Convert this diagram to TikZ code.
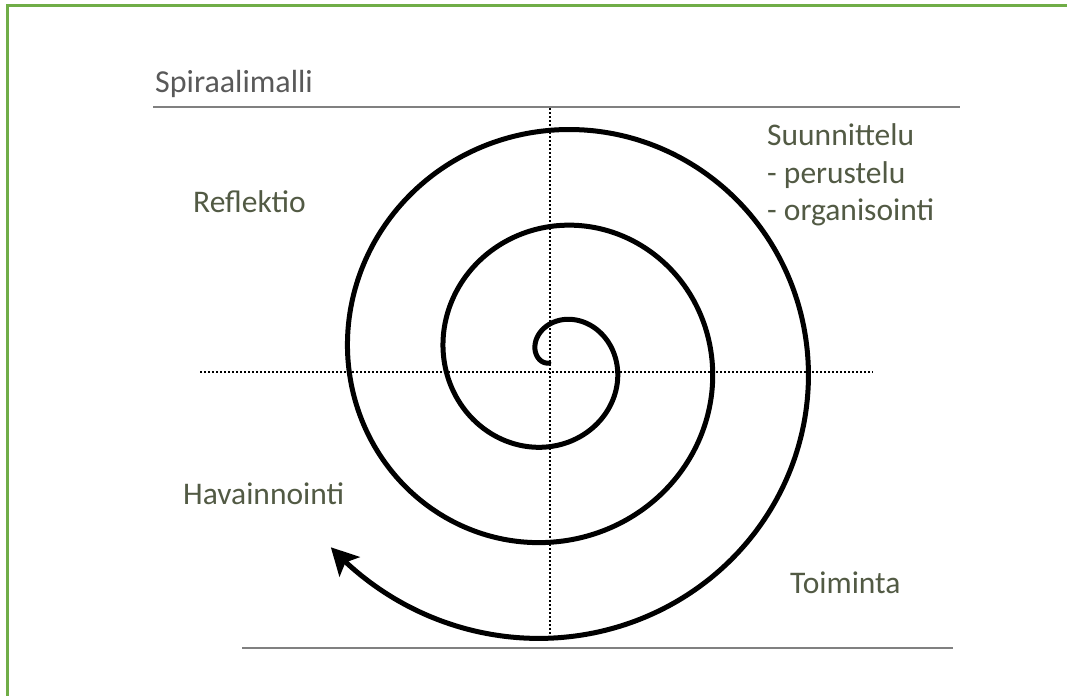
\documentclass[tikz,border=0pt]{standalone}
\usepackage{fontspec}
\setmainfont{Carlito}
\usetikzlibrary{arrows.meta}
\definecolor{framegreen}{RGB}{112,173,71}
\definecolor{labelcol}{RGB}{82,90,68}
\definecolor{titlecol}{RGB}{89,89,89}
\definecolor{rulecol}{RGB}{128,128,128}
\tikzset{
  lbl/.style={anchor=base west, inner sep=0pt, text=labelcol, font=\fontsize{31.5}{37.5}\selectfont},
  ttl/.style={anchor=base west, inner sep=0pt, text=titlecol, font=\fontsize{32}{38}\selectfont},
  rulerline/.style={draw=rulecol, line width=2pt},
  axisline/.style={draw=black, line width=1.6pt, dash pattern=on 1.6pt off 2.4pt},
  spiralline/.style={draw=black, line width=5pt, line cap=round},
  framel/.style={draw=framegreen, line width=3pt}
}
\begin{document}
\begin{tikzpicture}[x=1pt,y=-1pt]
\useasboundingbox (0,0) rectangle (1067,696);
\fill[white] (0,0) rectangle (1067,696);
% frame (top and left edges)
\coordinate (fTL) at (7.5,5.3);
\coordinate (fTR) at (1067,5.3);
\coordinate (fBL) at (7.5,696);
\draw[framel] (fTR) -- (fTL) -- (fBL);
% rules
\coordinate (r1a) at (153,107);
\coordinate (r1b) at (960,107);
\coordinate (r2a) at (242,648);
\coordinate (r2b) at (953,648);
\draw[rulerline] (r1a) -- (r1b);
\draw[rulerline] (r2a) -- (r2b);
% dotted axes
\coordinate (hA) at (200,372);
\coordinate (hB) at (873,372);
\coordinate (vA) at (550,108);
\coordinate (vB) at (550,637);
\draw[axisline] (hA) -- (hB);
\draw[axisline] (vA) -- (vB);
% spiral
\draw[spiralline, -{Stealth[length=27pt,width=28pt,inset=6pt]}]
  plot[domain=-120:950, samples=400, smooth, variable=\t]
  ({554 + (38+0.266667*\t)*sin(\t)}, {360 - (38+0.266667*\t)*cos(\t)});
% labels
\node[ttl] (title) at (155,92) {Spiraalimalli};
\node[lbl] (refl) at (193,212) {Reflektio};
\node[lbl] (hav) at (183,504) {Havainnointi};
\node[lbl] (suun) at (767,145) {Suunnittelu};
\node[lbl] (per) at (767,183) {- perustelu};
\node[lbl] (org) at (767,220) {- organisointi};
\node[lbl] (toim) at (790,593) {Toiminta};
\end{tikzpicture}
\end{document}
